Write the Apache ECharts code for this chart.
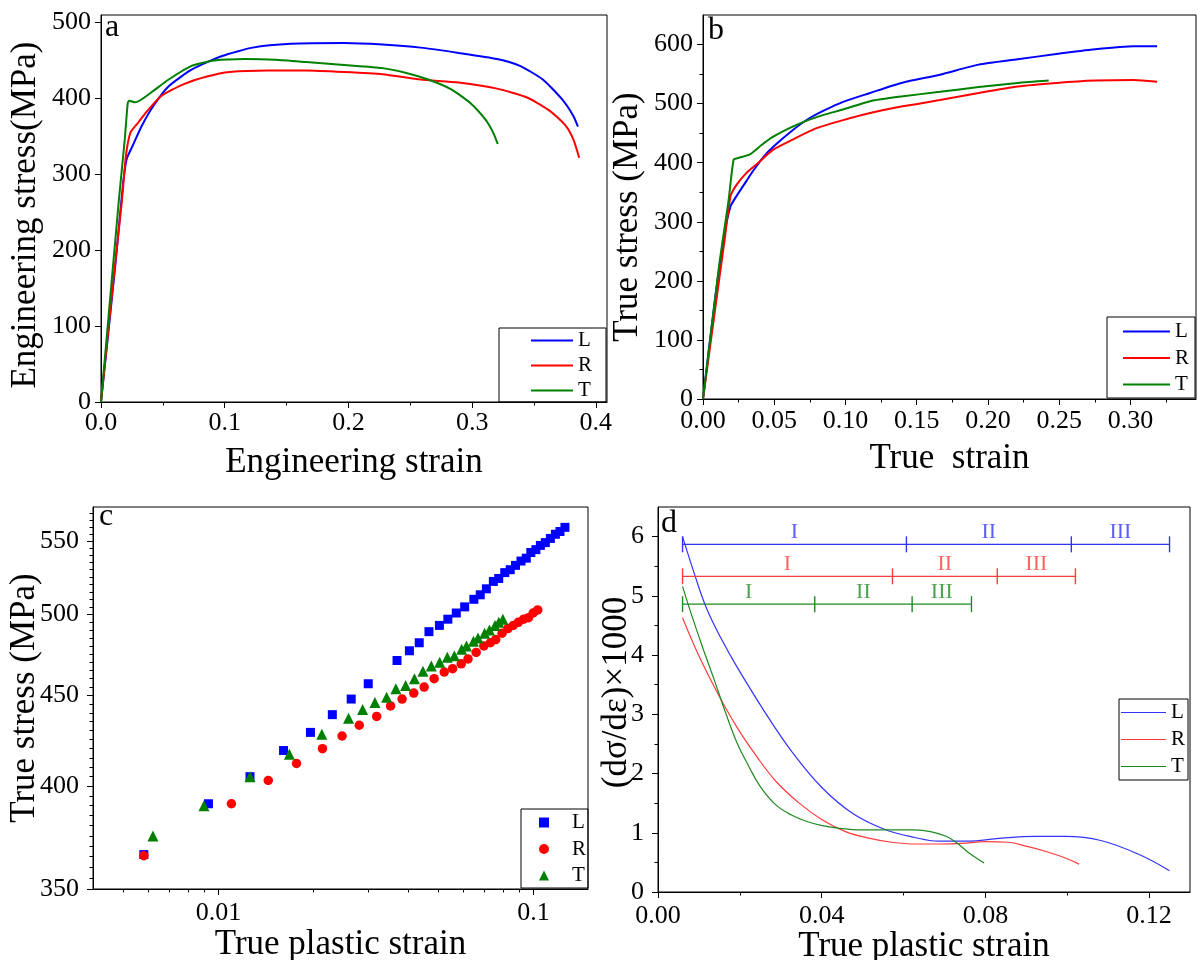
<!DOCTYPE html>
<html>
<head>
<meta charset="utf-8">
<title>Tensile behaviour of L, R and T specimens</title>
<script src="https://cdn.jsdelivr.net/npm/echarts@6/dist/echarts.min.js"></script>
<style>
  html, body { margin: 0; padding: 0; background: #fff; }
  #main { width: 1198px; height: 960px; }
</style>
</head>
<body>
<div id="main"></div>
<script>
// ---------------- data ----------------
const directions = ['L', 'R', 'T'];

// (a) engineering stress (MPa) vs engineering strain
const engL = [[0,0],[0.0115,179],[0.0176,284],[0.0207,320],[0.0254,337],[0.033,364],[0.0423,390],[0.0547,416],[0.0732,438],[0.0979,456],[0.1226,467],[0.1535,472],[0.1966,473],[0.2275,471],[0.2584,467],[0.2892,460],[0.3201,452],[0.3386,443],[0.3571,425],[0.3726,399],[0.3818,377],[0.3855,363]];
const engR = [[0,0],[0.01,160],[0.017,267],[0.0201,324],[0.0238,355],[0.03,368],[0.0361,381],[0.0485,403],[0.067,419],[0.0856,429],[0.104,435],[0.1349,437],[0.1658,437],[0.1966,435],[0.2275,432],[0.2584,425],[0.2892,421],[0.3201,413],[0.3448,401],[0.3633,383],[0.3757,364],[0.3818,346],[0.3865,322]];
const engT = [[0,0],[0.0145,267],[0.0192,346],[0.0216,394],[0.0228,397],[0.0275,395],[0.033,399],[0.0423,410],[0.0547,425],[0.0732,443],[0.0917,450],[0.1164,452],[0.141,451],[0.1658,448],[0.1966,444],[0.2275,440],[0.246,434],[0.2645,425],[0.2831,412],[0.2985,394],[0.3108,372],[0.317,355],[0.3207,340]];

// (b) true stress (MPa) vs true strain
const trueL = [[0,0],[0.0084,168],[0.0152,281],[0.0193,326],[0.0234,343],[0.0302,368],[0.0357,388],[0.0425,410],[0.0493,427],[0.0629,455],[0.0738,474],[0.0847,488],[0.0983,503],[0.1173,518],[0.1391,535],[0.1663,549],[0.1935,566],[0.2208,575],[0.248,584],[0.2752,592],[0.3024,597],[0.3187,597]];
const trueR = [[0,0],[0.0084,150],[0.0152,270],[0.0193,343],[0.0234,362],[0.0302,382],[0.0384,399],[0.0493,422],[0.0629,439],[0.0792,458],[0.0983,472],[0.1173,484],[0.1391,495],[0.1663,506],[0.1935,518],[0.2208,529],[0.248,535],[0.2752,539],[0.3024,540],[0.3187,537]];
const trueT = [[0,0],[0.0112,224],[0.018,337],[0.0215,405],[0.0248,408],[0.0329,414],[0.0411,430],[0.0493,444],[0.0629,461],[0.0738,472],[0.0847,481],[0.0983,490],[0.1173,504],[0.1391,512],[0.1663,520],[0.1935,528],[0.2208,535],[0.2426,539]];

// (c) true stress (MPa) vs true plastic strain, log-log
const plasticL = [[0.0058,366],[0.0093,391],[0.0126,405],[0.0161,419],[0.0196,429],[0.023,439],[0.0264,448],[0.0299,457],[0.0369,471],[0.0404,477],[0.0434,482],[0.0466,489],[0.0503,493],[0.0535,497],[0.0569,501],[0.0605,505],[0.0647,510],[0.0678,513],[0.0709,517],[0.0746,522],[0.0776,524],[0.0811,528],[0.0844,530],[0.0877,533],[0.0913,536],[0.0949,538],[0.0981,542],[0.1018,544],[0.1052,547],[0.1091,549],[0.1132,552],[0.1174,555],[0.1214,557],[0.1259,560]];
const plasticR = [[0.0058,365.5],[0.011,391],[0.0144,403],[0.0177,412],[0.0214,420],[0.0247,427],[0.028,433],[0.0318,438],[0.0352,444],[0.0383,448],[0.0417,451.5],[0.045,455],[0.0484,460],[0.0521,464],[0.0554,466],[0.059,469],[0.062,472],[0.0658,476],[0.0696,480],[0.073,482],[0.0759,484],[0.0795,488],[0.083,491],[0.0863,493],[0.0895,495],[0.0931,497],[0.0965,498],[0.0998,501],[0.1032,503]];
const plasticT = [[0.0062,375],[0.009,390],[0.0126,405],[0.0168,417],[0.0213,428],[0.0259,437],[0.0287,442],[0.0314,446],[0.0342,449],[0.0366,454],[0.0393,456],[0.0419,460],[0.0446,464.5],[0.0474,467.6],[0.0504,470],[0.0533,473],[0.0561,474],[0.0592,478],[0.0613,480],[0.0645,483],[0.0667,485],[0.07,488],[0.0725,490],[0.0755,493],[0.0776,495],[0.08,497]];

// (d) work-hardening rate (dσ/dε)×1000 vs true plastic strain
const rateL = [[0.006,6.0],[0.009,5.35],[0.0118,4.8],[0.0155,4.27],[0.0193,3.8],[0.026,3.05],[0.0326,2.38],[0.0401,1.76],[0.0477,1.32],[0.0553,1.06],[0.0628,0.92],[0.0685,0.86],[0.076,0.86],[0.0827,0.9],[0.0921,0.94],[0.0997,0.94],[0.1082,0.87],[0.1177,0.63],[0.125,0.36]];
const rateR = [[0.006,4.63],[0.0099,4.0],[0.0146,3.35],[0.0193,2.78],[0.0241,2.29],[0.0288,1.87],[0.0345,1.5],[0.0401,1.22],[0.0458,1.02],[0.0515,0.91],[0.0571,0.84],[0.0628,0.81],[0.0685,0.81],[0.0742,0.82],[0.0798,0.85],[0.0855,0.84],[0.0902,0.77],[0.095,0.68],[0.0997,0.57],[0.1029,0.47]];
const rateT = [[0.006,5.16],[0.008,4.72],[0.0108,4.15],[0.0137,3.59],[0.0165,3.03],[0.0193,2.52],[0.0222,2.12],[0.025,1.78],[0.0288,1.47],[0.0326,1.3],[0.0364,1.19],[0.0401,1.12],[0.0439,1.08],[0.0496,1.05],[0.0553,1.05],[0.0628,1.05],[0.0666,1.02],[0.0704,0.94],[0.0732,0.82],[0.076,0.66],[0.0797,0.49]];

// hardening stages: boundaries (true plastic strain) and level of each bar
const stageNames = ['I', 'II', 'III'];
const stageL = [0.006, 0.0607, 0.101, 0.125];
const stageR = [0.006, 0.0573, 0.0829, 0.102];
const stageT = [0.006, 0.0383, 0.0621, 0.0766];
const stageLevel = { L: 5.87, R: 5.33, T: 4.86 };

// tick values
const ticksA = { x: [0, 0.1, 0.2, 0.3, 0.4], xMinor: [0.05, 0.15, 0.25, 0.35], y: [0, 100, 200, 300, 400, 500], yMinor: [] };
const ticksB = { x: [0, 0.05, 0.1, 0.15, 0.2, 0.25, 0.3], xMinor: [0.025, 0.075, 0.125, 0.175, 0.225, 0.275, 0.325], y: [0, 100, 200, 300, 400, 500, 600], yMinor: [50, 150, 250, 350, 450, 550] };
const ticksC = { x: [0.01, 0.1], xMinor: [0.005, 0.006, 0.007, 0.008, 0.009, 0.02, 0.03, 0.04, 0.05, 0.06, 0.07, 0.08, 0.09],
                 y: [350, 400, 450, 500, 550],
                 yMinor: [355,360,365,370,375,380,385,390,395,405,410,415,420,425,430,435,440,445,455,460,465,470,475,480,485,490,495,505,510,515,520,525,530,535,540,545,555,560,565,570] };
const ticksD = { x: [0, 0.04, 0.08, 0.12], xMinor: [0.02, 0.06, 0.1], y: [0, 1, 2, 3, 4, 5, 6], yMinor: [0.5, 1.5, 2.5, 3.5, 4.5, 5.5] };

// axis ranges
const rangeA = { x: [0, 0.409], y: [0, 510] };
const rangeB = { x: [0, 0.346], y: [0, 650] };
const rangeC = { x: [0.004, 0.149], y: [350, 575] };
const rangeD = { x: [0, 0.13], y: [0, 6.5] };

// ---------------- styling ----------------
const FONT = 'Liberation Serif';
const BLACK = '#000';
const COLORS = { L: '#0000ff', R: '#ff0000', T: '#008000' };
const THIN = { L: '#3333ff', R: '#ff3b3b', T: '#1f8a1f' };
const TICK_FONT = 26;
const NAME_FONT = 35;

const tickLine = { color: BLACK, width: 1 };

// main axis: line, major ticks, labels and name
function mainAxis(dim, gridIndex, cfg) {
  const ax = {
    gridIndex: gridIndex,
    type: cfg.type || 'value',
    min: cfg.range[0],
    max: cfg.range[1],
    position: dim === 'x' ? 'bottom' : 'left',
    splitLine: { show: false },
    silent: true,
    name: cfg.name,
    nameLocation: 'middle',
    nameGap: cfg.nameGap,
    nameMoveOverlap: false,
    nameTextStyle: { fontFamily: FONT, fontSize: NAME_FONT, color: BLACK, padding: cfg.namePad || 0 },
    axisLine: { show: true, onZero: false, lineStyle: { color: BLACK, width: 1 } },
    axisTick: { show: true, inside: false, length: 6, customValues: cfg.ticks, lineStyle: tickLine },
    axisLabel: { show: true, customValues: cfg.ticks, formatter: cfg.fmt, margin: cfg.margin,
                 fontFamily: FONT, fontSize: TICK_FONT, color: BLACK, hideOverlap: false }
  };
  if (cfg.type === 'log') ax.logBase = 10;
  return ax;
}

// minor-tick axis sharing the grid (and scale type) of a main axis
function minorAxis(dim, gridIndex, cfg) {
  const ax = {
    gridIndex: gridIndex, type: cfg.type || 'value', min: cfg.range[0], max: cfg.range[1],
    position: dim === 'x' ? 'bottom' : 'left', silent: true,
    splitLine: { show: false },
    axisLine: { show: false, onZero: false },
    axisTick: { show: cfg.minor.length > 0, inside: false, length: 3.5, customValues: cfg.minor, lineStyle: tickLine },
    axisLabel: { show: false }
  };
  if (cfg.type === 'log') ax.logBase = 10;
  return ax;
}

const fix = n => v => Number(v).toFixed(n);
const plain = v => String(v);

// index layout: panel p -> main axis 2p, minor-tick axis 2p+1
const xAxes = [
  mainAxis('x', 0, { range: rangeA.x, ticks: ticksA.x, fmt: fix(1), margin: 8, name: 'Engineering strain', nameGap: 43 }),
  minorAxis('x', 0, { range: rangeA.x, minor: ticksA.xMinor }),
  mainAxis('x', 1, { range: rangeB.x, ticks: ticksB.x, fmt: fix(2), margin: 9, name: 'True  strain', nameGap: 42 }),
  minorAxis('x', 1, { range: rangeB.x, minor: ticksB.xMinor }),
  mainAxis('x', 2, { type: 'log', range: rangeC.x, ticks: ticksC.x, fmt: plain, margin: 11, name: 'True plastic strain', nameGap: 38 }),
  minorAxis('x', 2, { type: 'log', range: rangeC.x, minor: ticksC.xMinor }),
  mainAxis('x', 3, { range: rangeD.x, ticks: ticksD.x, fmt: fix(2), margin: 11, name: 'True plastic strain', nameGap: 37 }),
  minorAxis('x', 3, { range: rangeD.x, minor: ticksD.xMinor })
];
const yAxes = [
  mainAxis('y', 0, { range: rangeA.y, ticks: ticksA.y, fmt: plain, margin: 10, name: 'Engineering stress(MPa)', nameGap: 58, namePad: [0, 13, 0, 0] }),
  minorAxis('y', 0, { range: rangeA.y, minor: ticksA.yMinor }),
  mainAxis('y', 1, { range: rangeB.y, ticks: ticksB.y, fmt: plain, margin: 10, name: 'True stress (MPa)', nameGap: 58, namePad: [0, 20, 0, 0] }),
  minorAxis('y', 1, { range: rangeB.y, minor: ticksB.yMinor }),
  mainAxis('y', 2, { type: 'log', range: rangeC.y, ticks: ticksC.y, fmt: plain, margin: 14, name: 'True stress (MPa)', nameGap: 51 }),
  minorAxis('y', 2, { type: 'log', range: rangeC.y, minor: ticksC.yMinor }),
  mainAxis('y', 3, { range: rangeD.y, ticks: ticksD.y, fmt: plain, margin: 14, name: '(d\u03c3/d\u03b5)\u00d71000', nameGap: 24, namePad: [0, 0, 0, 14] }),
  minorAxis('y', 3, { range: rangeD.y, minor: ticksD.yMinor })
];

const gridBox = { show: true, borderColor: BLACK, borderWidth: 1, backgroundColor: 'transparent', outerBoundsMode: 'none', containLabel: false };
const grids = [
  Object.assign({ left: 101, top: 15, width: 506, height: 387 }, gridBox),
  Object.assign({ left: 703, top: 15, width: 493, height: 384 }, gridBox),
  Object.assign({ left: 93, top: 507, width: 495, height: 382 }, gridBox),
  Object.assign({ left: 658, top: 507, width: 532, height: 385 }, gridBox)
];

// ---------------- series ----------------
const series = [];
function curve(name, panel, data, color, width, smooth) {
  series.push({
    name: name, type: 'line', xAxisIndex: panel * 2, yAxisIndex: panel * 2,
    data: data, symbol: 'none', smooth: smooth, silent: true,
    lineStyle: { color: color, width: width }, itemStyle: { color: color }
  });
}
curve('L_a', 0, engL, COLORS.L, 2, 0.2);
curve('R_a', 0, engR, COLORS.R, 2, 0.2);
curve('T_a', 0, engT, COLORS.T, 2, 0.2);
curve('L_b', 1, trueL, COLORS.L, 2, 0.2);
curve('R_b', 1, trueR, COLORS.R, 2, 0.2);
curve('T_b', 1, trueT, COLORS.T, 2, 0.2);

const markerShape = { L: 'rect', R: 'circle', T: 'triangle' };
const markerSize = { L: 9, R: 9.5, T: 11 };
[['L', plasticL], ['R', plasticR], ['T', plasticT]].forEach(([d, pts]) => {
  series.push({
    name: d + '_c', type: 'scatter', xAxisIndex: 4, yAxisIndex: 4, data: pts, silent: true,
    symbol: markerShape[d], symbolSize: markerSize[d], itemStyle: { color: COLORS[d], opacity: 1 }
  });
});

curve('L_d', 3, rateL, THIN.L, 1.2, 0.4);
curve('R_d', 3, rateR, THIN.R, 1.2, 0.4);
curve('T_d', 3, rateT, THIN.T, 1.2, 0.4);

// stage bars with end ticks and stage numerals
[['L', stageL], ['R', stageR], ['T', stageT]].forEach(([d, bounds]) => {
  const level = stageLevel[d];
  series.push({
    name: 'stage_' + d, type: 'line', xAxisIndex: 6, yAxisIndex: 6, silent: true,
    data: bounds.map(b => [b, level]),
    symbol: 'rect', symbolSize: [1.4, 16], showAllSymbol: true,
    lineStyle: { color: THIN[d], width: 1.3 }, itemStyle: { color: THIN[d] }
  });
  series.push({
    name: 'stageLabel_' + d, type: 'scatter', xAxisIndex: 6, yAxisIndex: 6, silent: true,
    data: stageNames.map((s, i) => [(bounds[i] + bounds[i + 1]) / 2, level, s]),
    symbolSize: 0,
    label: { show: true, position: 'top', distance: 1, formatter: p => p.data[2],
             fontFamily: FONT, fontSize: 22, color: THIN[d] }
  });
});

// ---------------- legends ----------------
function legend(suffix, left, top, opts) {
  return Object.assign({
    left: left, top: top, orient: 'vertical', selectedMode: false,
    data: directions.map(d => d + suffix),
    formatter: n => n.charAt(0),
    icon: 'rect',
    borderColor: BLACK, borderWidth: 1, borderRadius: 0,
    textStyle: { fontFamily: FONT, fontSize: 21, color: BLACK, lineHeight: 20 }
  }, opts);
}
const legends = [
  legend('_a', 499, 328, { itemWidth: 42, itemHeight: 2, itemGap: 4, padding: [2, 14, 1, 32] }),
  legend('_b', 1107, 317, { itemWidth: 47, itemHeight: 2, itemGap: 5.5, padding: [4, 6, 3, 16] }),
  legend('_c', 521, 809, { icon: null, itemWidth: 10, itemHeight: 10, itemGap: 5.5, padding: [3, 2, 2, 18],
                           textStyle: { fontFamily: FONT, fontSize: 21, color: BLACK, lineHeight: 20, padding: [0, 0, 0, 18] } }),
  legend('_d', 1119, 699, { itemWidth: 45, itemHeight: 1.2, itemGap: 6, padding: [3, 3, 3, 2] })
];

// ---------------- panel letters ----------------
const letters = [['a', 105, 28], ['b', 708, 31], ['c', 99, 517], ['d', 661, 524]].map(([t, x, y]) => ({
  type: 'text', x: x, y: y, silent: true,
  style: { text: t, fontFamily: FONT, fontSize: 32, fill: BLACK, align: 'left', verticalAlign: 'middle' }
}));

const chart = echarts.init(document.getElementById('main'), null, { renderer: 'canvas' });
chart.setOption({
  animation: false,
  backgroundColor: '#fff',
  textStyle: { fontFamily: FONT },
  grid: grids,
  xAxis: xAxes,
  yAxis: yAxes,
  legend: legends,
  series: series,
  graphic: letters
});
</script>
</body>
</html>
